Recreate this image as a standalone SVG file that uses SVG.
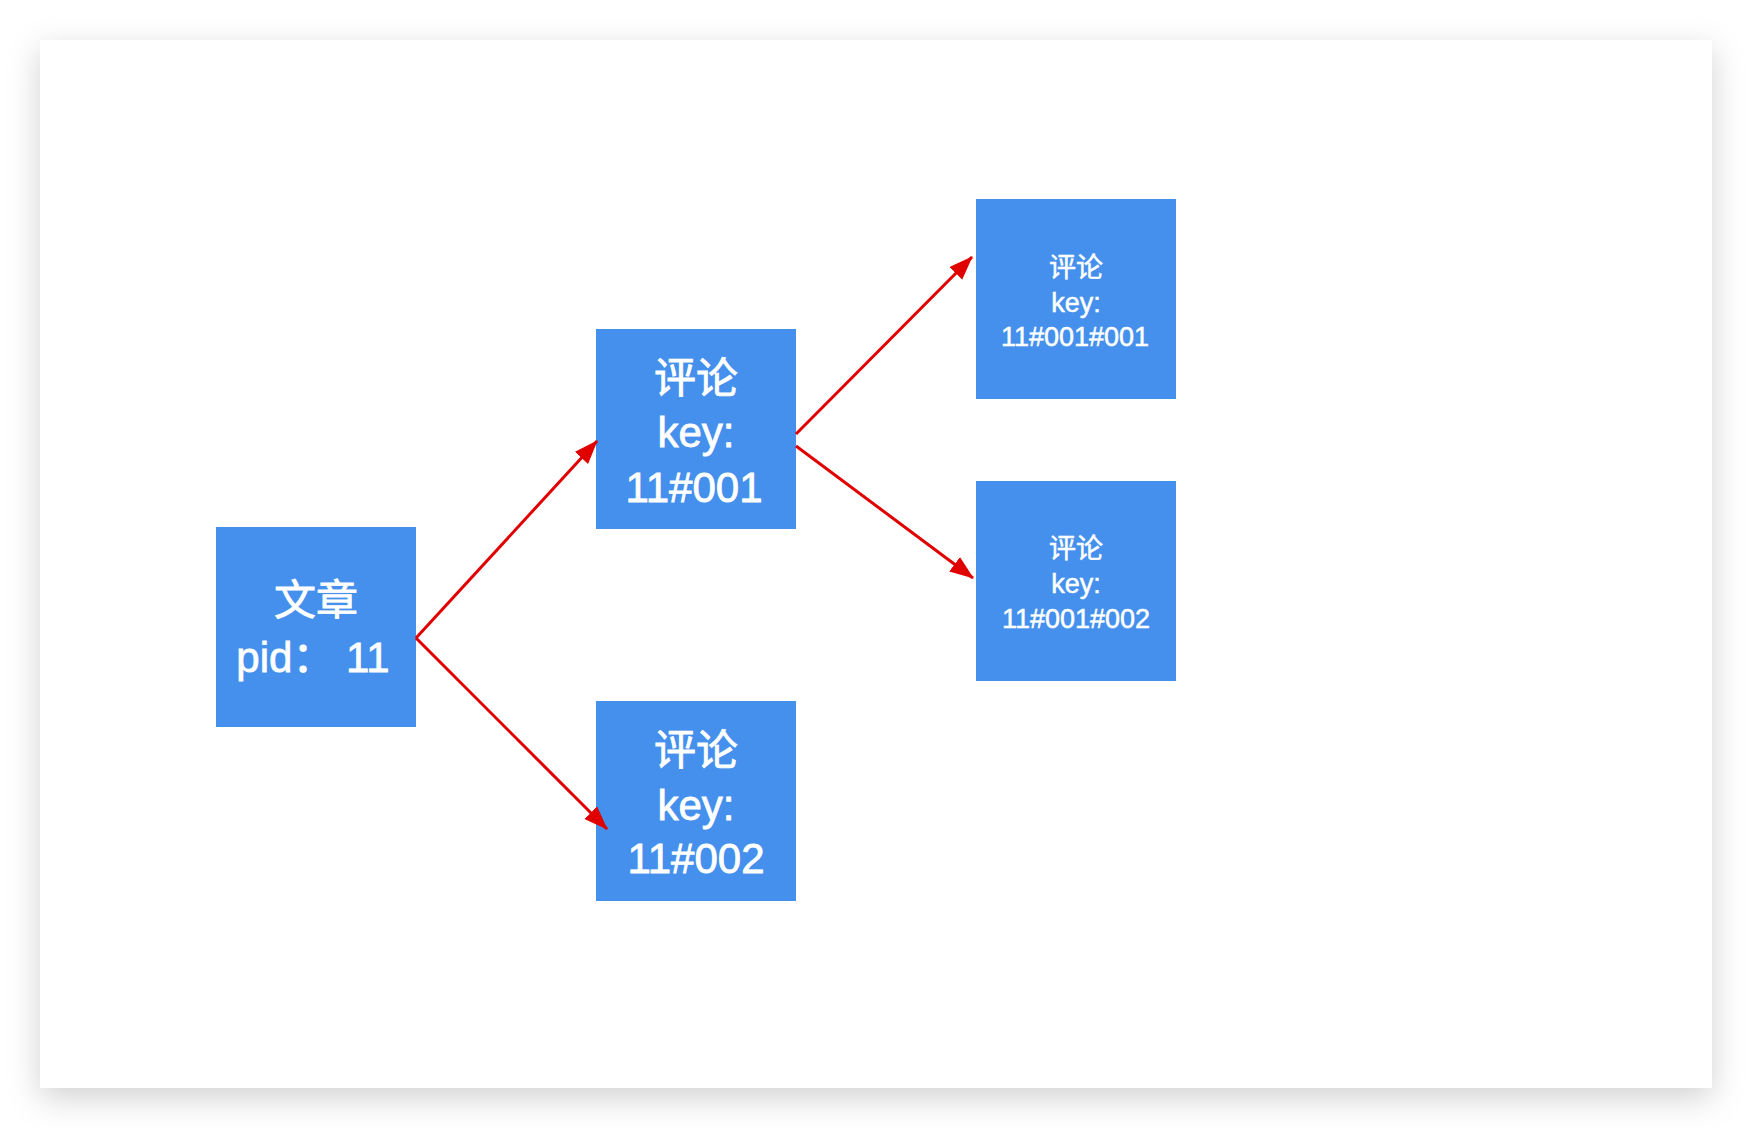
<svg xmlns="http://www.w3.org/2000/svg" width="1752" height="1128" viewBox="0 0 1752 1128">
<defs>
<filter id="sh" x="-10%" y="-10%" width="120%" height="125%">
<feDropShadow dx="0" dy="10" stdDeviation="16" flood-color="#000" flood-opacity="0.18"/>
</filter>
<marker id="ah" markerUnits="userSpaceOnUse" markerWidth="26" markerHeight="20" refX="23" refY="9" orient="auto">
<path d="M0,0 L24,9 L0,18 Z" fill="#E10000"/>
</marker>
<style>
.node{fill:#4490EC}
.t{font-family:"Liberation Sans","Noto Sans CJK SC",sans-serif;fill:#fff;stroke:#fff;text-anchor:middle}
.big{font-size:42px;stroke-width:0.8}
.small{font-size:27px;stroke-width:0.5}
.edge{stroke:#E10000;stroke-width:3;fill:none;marker-end:url(#ah)}
</style>
</defs>
<rect width="1752" height="1128" fill="#fff"/>
<rect x="40" y="40" width="1672" height="1048" fill="#fff" filter="url(#sh)"/>
<g id="node-article">
<rect class="node" x="216" y="527" width="200" height="200"/>
<text class="t big" x="316" y="615">文章</text>
<text class="t big" x="313" y="672">pid： 11</text>
</g>
<g id="node-c001">
<rect class="node" x="596" y="329" width="200" height="200"/>
<text class="t big" x="696" y="393">评论</text>
<text class="t big" x="696" y="447">key:</text>
<text class="t big" x="694" y="502">11#001</text>
</g>
<g id="node-c002">
<rect class="node" x="596" y="701" width="200" height="200"/>
<text class="t big" x="696" y="765">评论</text>
<text class="t big" x="696" y="820">key:</text>
<text class="t big" x="696" y="873">11#002</text>
</g>
<g id="node-c001001">
<rect class="node" x="976" y="199" width="200" height="200"/>
<text class="t small" x="1076" y="277">评论</text>
<text class="t small" x="1076" y="312">key:</text>
<text class="t small" x="1075" y="346">11#001#001</text>
</g>
<g id="node-c001002">
<rect class="node" x="976" y="481" width="200" height="200"/>
<text class="t small" x="1076" y="558">评论</text>
<text class="t small" x="1076" y="593">key:</text>
<text class="t small" x="1076" y="628">11#001#002</text>
</g>
<g id="connectors">
<line class="edge" x1="416" y1="638" x2="597" y2="441"/>
<line class="edge" x1="416" y1="638" x2="607" y2="829"/>
<line class="edge" x1="796" y1="434" x2="972" y2="257"/>
<line class="edge" x1="796" y1="446" x2="973" y2="578"/>
</g>
</svg>
